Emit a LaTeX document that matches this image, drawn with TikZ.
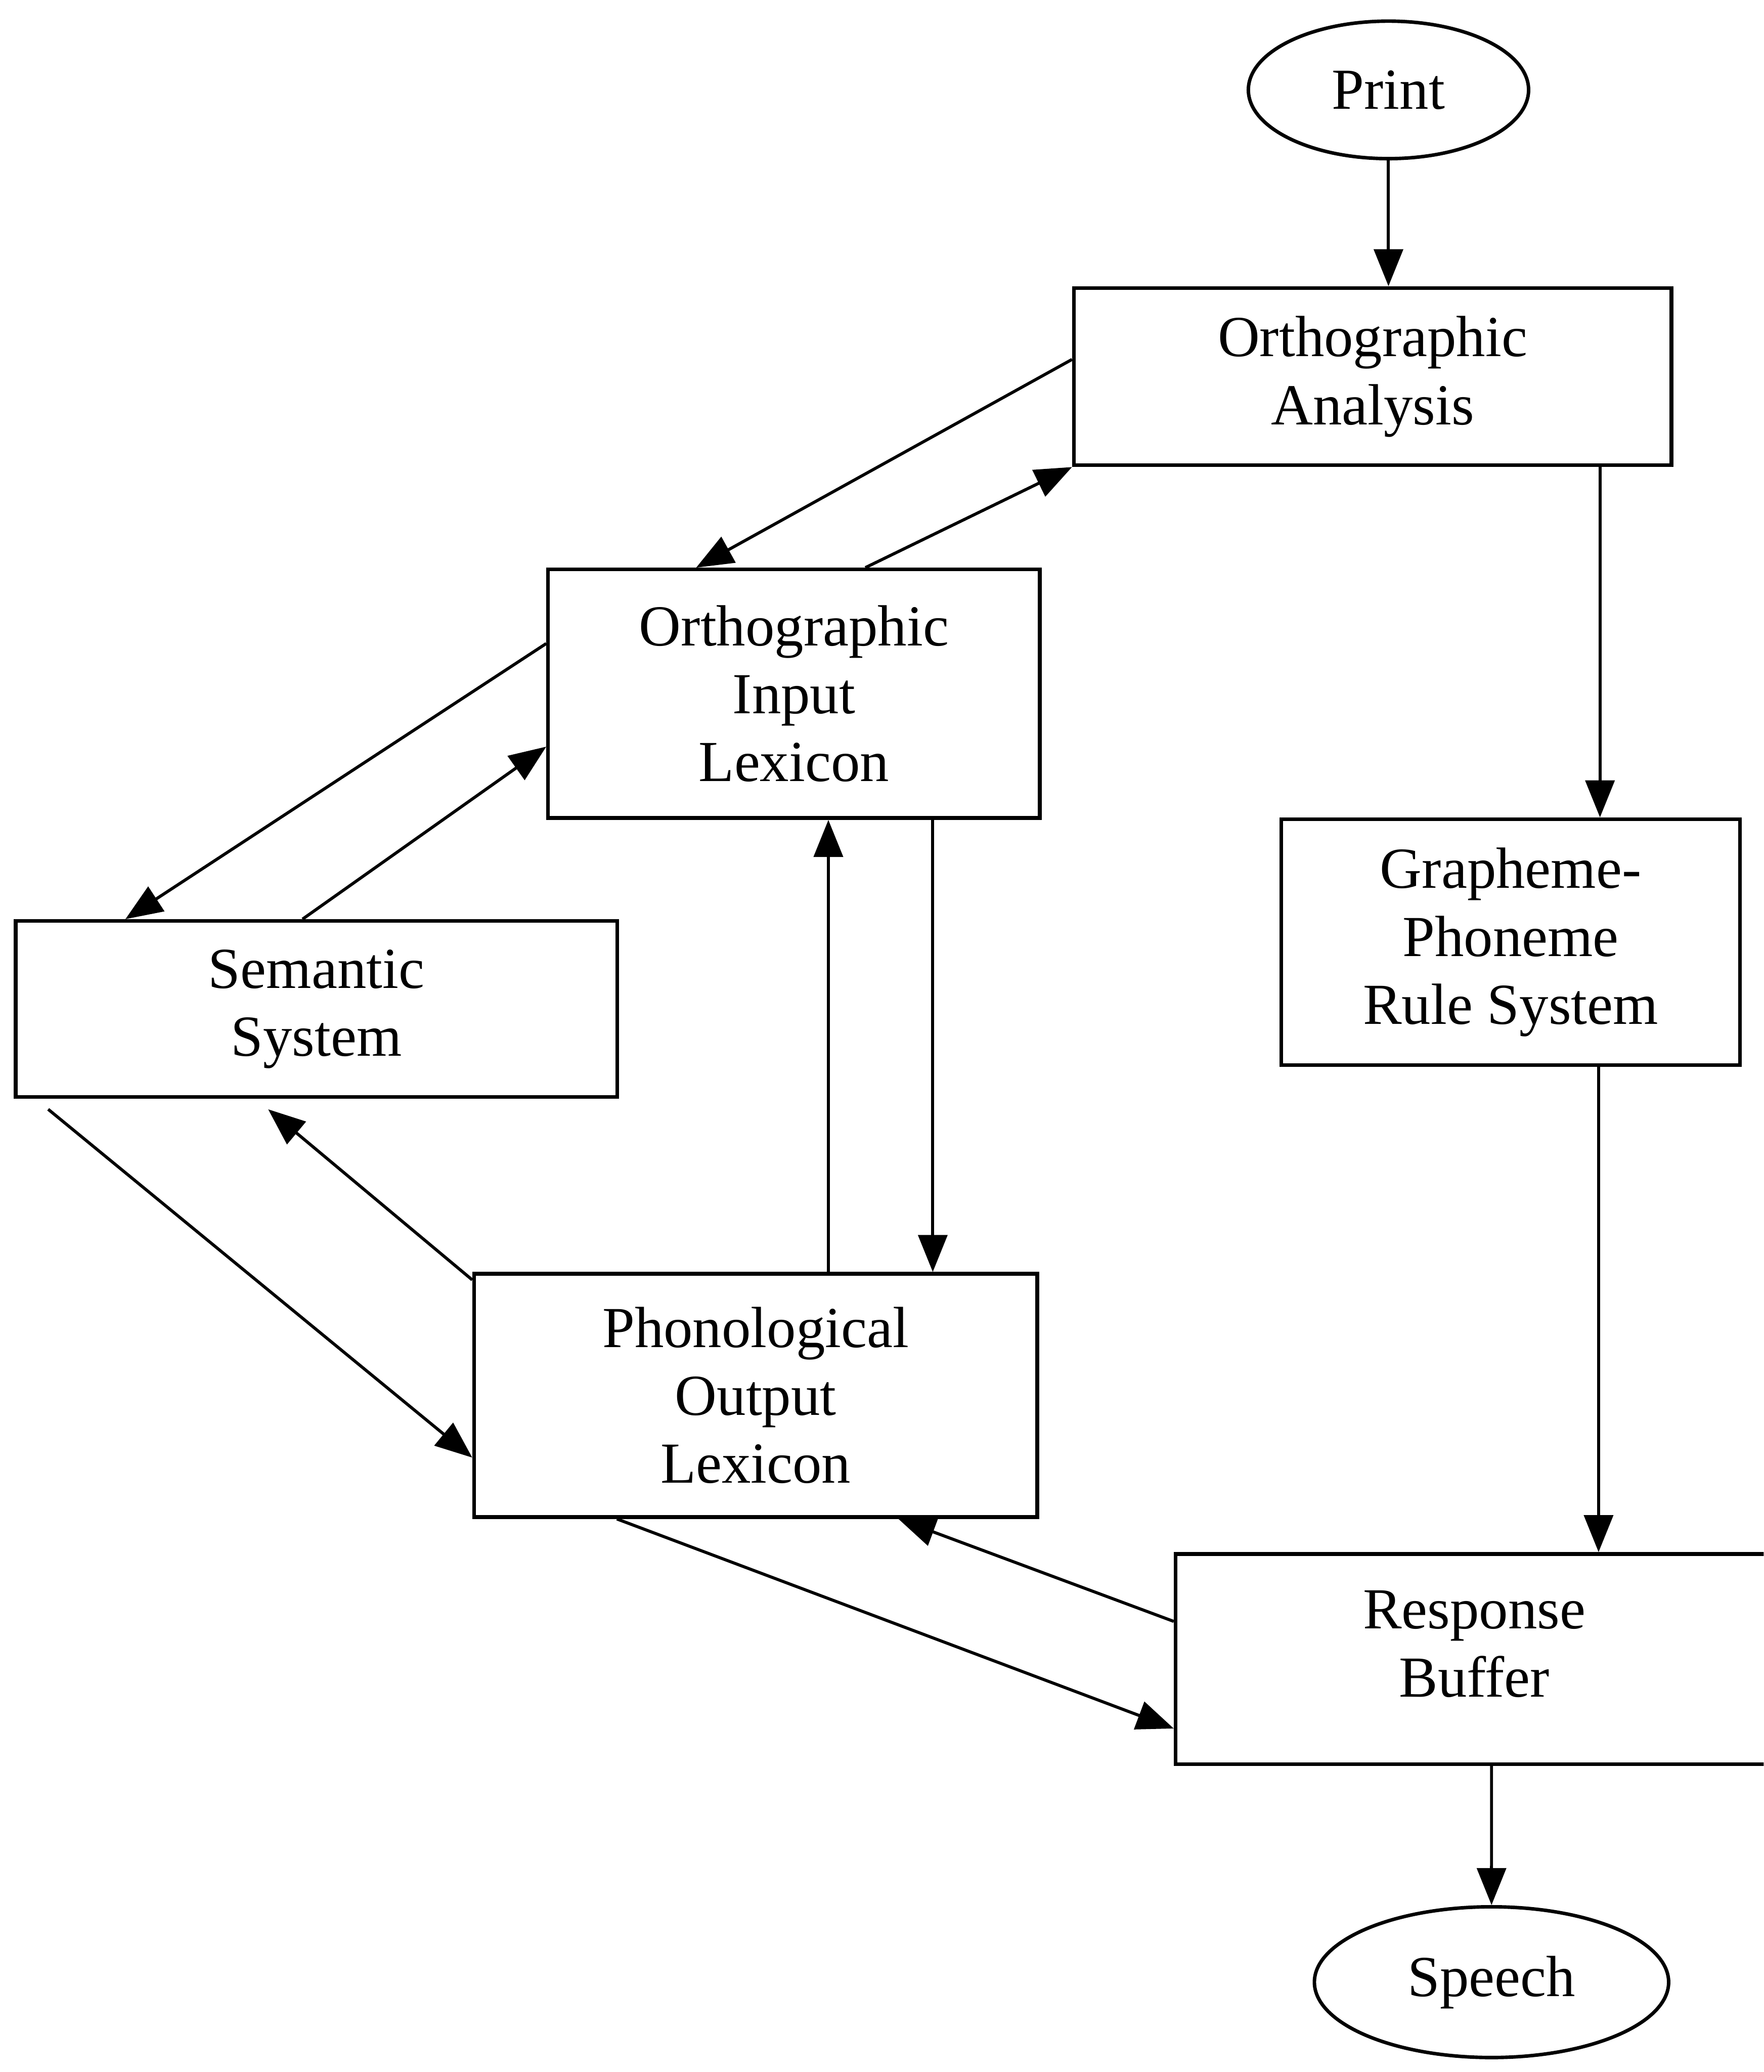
\documentclass[tikz,border=0pt]{standalone}
\usepackage{fontspec}
\setmainfont{Liberation Serif}
\usetikzlibrary{arrows.meta,shapes.geometric}
\begin{document}
\begin{tikzpicture}[x=0.01cm,y=-0.01cm,
  every node/.style={font=\fontsize{12.5pt}{14.6pt}\selectfont, align=center},
  box/.style={draw, line width=0.8pt, rectangle, inner sep=0pt},
  oval/.style={draw, line width=0.75pt, ellipse, inner sep=0pt},
  conn/.style={line width=0.65pt, -{Triangle[length=0.28cm,width=0.22cm]}}]
\clip (0,0) rectangle (1335,1568);
\node[oval, minimum width=2.12cm, minimum height=1.04cm] (Print) at (1051,68) {Print};
\node[box, minimum width=4.52cm, minimum height=1.34cm] (OA) at (1039,285) {Orthographic\\Analysis};
\node[box, minimum width=3.72cm, minimum height=1.88cm] (OIL) at (601,525) {Orthographic\\Input\\Lexicon};
\node[box, minimum width=3.47cm, minimum height=1.86cm] (GPR) at (1143.5,713) {Grapheme-\\Phoneme\\Rule System};
\node[box, minimum width=4.55cm, minimum height=1.33cm] (Sem) at (239.5,763.5) {Semantic\\System};
\node[box, minimum width=4.26cm, minimum height=1.84cm] (POL) at (572,1056) {Phonological\\Output\\Lexicon};
\node[box, minimum width=4.52cm, minimum height=1.59cm] (RB) at (1116,1255.5) {Response\\Buffer\\[-8pt]};
\node[oval, minimum width=2.68cm, minimum height=1.14cm] (Speech) at (1129,1500) {Speech};

\draw[conn] (Print.south) -- (Print.south |- OA.north);
\draw[conn] ([yshift=0.13cm]OA.west) -- ([xshift=-0.74cm]OIL.north);
\draw[conn] ([xshift=0.54cm]OIL.north) -- (OA.south west);
\draw[conn] ([xshift=1.72cm]OA.south) -- ([xshift=1.72cm]OA.south |- GPR.north);
\draw[conn] ([yshift=0.38cm]OIL.west) -- ([xshift=-1.445cm]Sem.north);
\draw[conn] ([xshift=-0.105cm]Sem.north) -- ([yshift=-0.40cm]OIL.west);
\draw[conn] ([xshift=0.55cm]POL.north) -- ([xshift=0.55cm]POL.north |- OIL.south);
\draw[conn] ([xshift=1.05cm]OIL.south) -- ([xshift=1.05cm]OIL.south |- POL.north);
\draw[conn] ([xshift=0.26cm,yshift=-0.08cm]Sem.south west) -- ([yshift=-0.47cm]POL.west);
\draw[conn] ([yshift=-0.06cm]POL.north west) -- ([xshift=-0.365cm,yshift=-0.08cm]Sem.south);
\draw[conn] ([xshift=0.665cm]GPR.south) -- ([xshift=0.665cm]GPR.south |- RB.north);
\draw[conn] ([xshift=-1.05cm]POL.south) -- ([yshift=-0.525cm]RB.west);
\draw[conn] ([yshift=0.285cm]RB.west) -- ([xshift=1.08cm]POL.south);
\draw[conn] ([xshift=0.13cm]RB.south) -- (Speech.north);
\end{tikzpicture}
\end{document}
